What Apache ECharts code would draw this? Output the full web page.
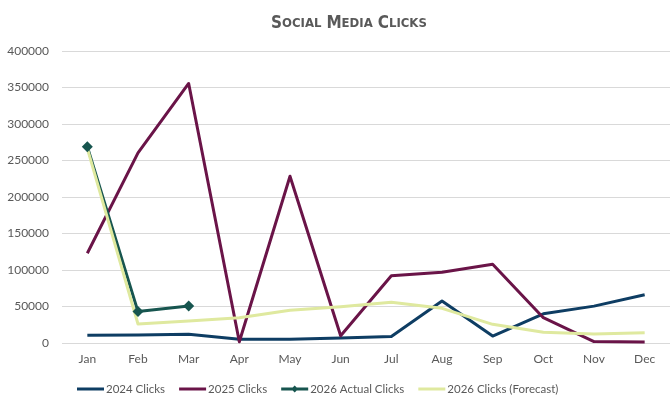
<!DOCTYPE html>
<html>
<head>
<meta charset="utf-8">
<script src="https://cdn.jsdelivr.net/npm/echarts@6/dist/echarts.min.js"></script>
<style>
  html, body { margin: 0; padding: 0; background: #ffffff; }
  #chart { width: 670px; height: 400px; }
</style>
</head>
<body>
<div id="chart"></div>
<script>
// Monthly social media clicks
const months = ['Jan', 'Feb', 'Mar', 'Apr', 'May', 'Jun', 'Jul', 'Aug', 'Sep', 'Oct', 'Nov', 'Dec'];
const yTicks = [0, 50000, 100000, 150000, 200000, 250000, 300000, 350000, 400000];

const clicks2024 = [10500, 11000, 12000, 5000, 5000, 7000, 9000, 57500, 9500, 40000, 50500, 66000];
const clicks2025 = [123000, 260500, 355500, 1800, 228500, 10000, 92000, 97000, 108000, 34700, 2000, 1500];
const clicks2026Actual = [269000, 43000, 50700];
const clicks2026Forecast = [266500, 26000, 30000, 34700, 45000, 49700, 55700, 47500, 25600, 14600, 12300, 14000];

const labelColor = '#595959';
const fontFamily = 'Lato, "Open Sans", sans-serif';

// Legend glyphs: a thin line inside a 27x11 box (the leading moves fix the box size)
const lineIcon = 'path://M0,0 M27,11 M0,4 H27 V7 H0 Z';
const lineDiamondIcon = 'path://M0,0 M27,11 M0,4 H27 V7 H0 Z M13.5,2 L17,5.5 L13.5,9 L10,5.5 Z';

const chart = echarts.init(document.getElementById('chart'), null, { renderer: 'canvas' });

chart.setOption({
  backgroundColor: '#ffffff',
  animation: false,
  title: {
    left: 266,
    top: 10,
    text: '{a|S}{b|OCIAL} {a|M}{b|EDIA} {a|C}{b|LICKS}',
    textStyle: {
      rich: {
        a: { fontFamily: '"DejaVu Sans Condensed", "DejaVu Sans", sans-serif', fontWeight: 'bold', fontSize: 17, color: labelColor },
        b: { fontFamily: '"DejaVu Sans Condensed", "DejaVu Sans", sans-serif', fontWeight: 'bold', fontSize: 13, color: labelColor }
      }
    }
  },
  grid: { left: 62, right: -6, top: 51, bottom: 57 },
  legend: {
    bottom: 0,
    left: 72,
    itemWidth: 27,
    itemHeight: 11,
    itemGap: 14,
    textStyle: { color: labelColor, fontSize: 11.5, fontFamily: fontFamily, padding: [0, 0, 0, -3] },
    data: [
      { name: '2024 Clicks', icon: lineIcon },
      { name: '2025 Clicks', icon: lineIcon },
      { name: '2026 Actual Clicks', icon: lineDiamondIcon },
      { name: '2026 Clicks (Forecast)', icon: lineIcon }
    ]
  },
  xAxis: {
    type: 'category',
    data: months,
    boundaryGap: true,
    axisLine: { show: false },
    axisTick: { show: false },
    axisLabel: { color: labelColor, fontSize: 12, fontFamily: fontFamily, margin: 10 }
  },
  yAxis: {
    type: 'value',
    min: yTicks[0],
    max: yTicks[yTicks.length - 1],
    interval: yTicks[1] - yTicks[0],
    axisLine: { show: false },
    axisTick: { show: false },
    axisLabel: {
      color: labelColor, fontSize: 12, fontFamily: fontFamily, margin: 13,
      formatter: (v) => String(v)
    },
    splitLine: { lineStyle: { color: '#d9d9d9', width: 1 } }
  },
  series: [
    {
      name: '2024 Clicks', type: 'line', data: clicks2024,
      symbol: 'none', color: '#0e3d63',
      lineStyle: { width: 3, color: '#0e3d63', join: 'round' }
    },
    {
      name: '2025 Clicks', type: 'line', data: clicks2025,
      symbol: 'none', color: '#6a1448',
      lineStyle: { width: 3, color: '#6a1448', join: 'round' }
    },
    {
      name: '2026 Actual Clicks', type: 'line', data: clicks2026Actual,
      symbol: 'diamond', symbolSize: 11, color: '#17554f',
      itemStyle: { color: '#17554f' },
      lineStyle: { width: 3, color: '#17554f', join: 'round' }
    },
    {
      name: '2026 Clicks (Forecast)', type: 'line', data: clicks2026Forecast,
      symbol: 'none', color: '#dfe99f',
      lineStyle: { width: 3, color: '#dfe99f', join: 'round' }
    }
  ]
});
</script>
</body>
</html>
